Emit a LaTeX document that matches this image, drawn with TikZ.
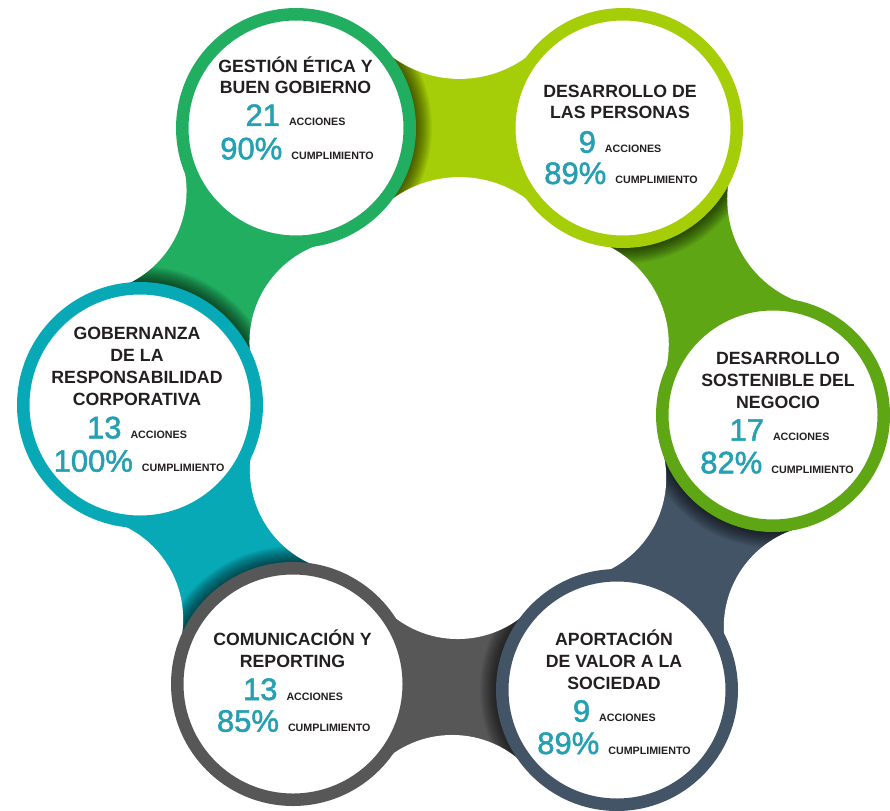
\documentclass[tikz,border=0pt]{standalone}
\usepackage{fontspec}
\setmainfont{Liberation Sans}
\newfontfamily\numfont{Liberation Sans}[FakeBold=1.6]
\usepackage{tikz}
\usetikzlibrary{calc}

\definecolor{ringgreen}{RGB}{34,174,96}
\definecolor{ringlime}{RGB}{166,206,8}
\definecolor{ringleaf}{RGB}{95,166,20}
\definecolor{ringslate}{RGB}{67,84,102}
\definecolor{ringgrey}{RGB}{87,87,87}
\definecolor{ringteal}{RGB}{8,169,183}
\definecolor{numblue}{RGB}{37,160,178}
\definecolor{ink}{RGB}{35,31,32}

\newcommand{\scoreline}[2]{{\color{numblue}\numfont\fontsize{31}{31}\selectfont #1}\hspace{9pt}{\color{ink}\bfseries\fontsize{10.7}{11}\selectfont #2}}

\newcommand{\bridge}[6]{%
	\coordinate (mid) at ($(#1)!0.5!(#2)$);
	\coordinate (cin) at ($(mid)!#4pt!90:(#2)$);
	\coordinate (cout) at ($(mid)!#4pt!-90:(#2)$);
	\fill[#3] (#1) -- (cout) -- (#2) -- (cin) -- cycle;
	\begin{scope}
		\clip (#1) -- (cout) -- (#2) -- (cin) -- cycle;
		\foreach \s in {1,...,16}
			\fill[black, opacity=0.045] (#2) circle [radius=#5pt+\s pt];
	\end{scope}
	\fill[white] (cin) circle [radius=#6pt];
	\fill[white] (cout) circle [radius=#6pt];
}

\tikzset{
	ring/.style={circle, draw=#1, line width=12.5pt, fill=white, inner sep=0pt},
	title/.style={align=center, anchor=base, inner sep=0pt, text=ink, font=\bfseries\fontsize{17.7}{21.8}\selectfont},
	score/.style={anchor=base, inner sep=0pt},
}

\begin{document}
\begin{tikzpicture}[x=1pt, y=-1pt]
	\useasboundingbox (0,0) rectangle (890,810);
	\coordinate (eth) at (296,128);
	\coordinate (peo) at (623,128);
	\coordinate (bus) at (773,415);
	\coordinate (soc) at (617,690);
	\coordinate (com) at (293,684);
	\coordinate (gov) at (140,405);
		\bridge{eth}{gov}{ringgreen}{154.3}{123}{103}
		\bridge{gov}{com}{ringteal}{155.5}{122}{103}
		\bridge{com}{soc}{ringgrey}{151}{121}{103}
		\bridge{soc}{bus}{ringslate}{151.5}{117}{103}
		\bridge{bus}{peo}{ringleaf}{157.1}{120}{110}
		\bridge{peo}{eth}{ringlime}{162.6}{120}{113.5}
	\node (ethics) at (eth) [ring=ringgreen, minimum size=227.5pt] {};
	\node (people) at (peo) [ring=ringlime, minimum size=227.5pt] {};
	\node (business) at (bus) [ring=ringleaf, minimum size=221.5pt] {};
	\node (society) at (soc) [ring=ringslate, minimum size=229.5pt] {};
	\node (communication) at (com) [ring=ringgrey, minimum size=231.5pt] {};
	\node (governance) at (gov) [ring=ringteal, minimum size=233.5pt] {};
		\node (ethicsT) at (295.5,94) [title] {GESTIÓN ÉTICA Y\\BUEN GOBIERNO};
		\node (ethicsN) at (295.5,126) [score] {\scoreline{21}{ACCIONES}};
		\node (ethicsP) at (297,159.3) [score] {\scoreline{90\%}{CUMPLIMIENTO}};
		\node (peopleT) at (620,119) [title] {DESARROLLO DE\\LAS PERSONAS};
		\node (peopleN) at (620,152.7) [score] {\scoreline{9}{ACCIONES}};
		\node (peopleP) at (621,184) [score] {\scoreline{89\%}{CUMPLIMIENTO}};
		\node (businessT) at (778,408.3) [title] {DESARROLLO\\SOSTENIBLE DEL\\NEGOCIO};
		\node (businessN) at (779.5,440.7) [score] {\scoreline{17}{ACCIONES}};
		\node (businessP) at (777,473.3) [score] {\scoreline{82\%}{CUMPLIMIENTO}};
		\node (societyT) at (614,689) [title] {APORTACIÓN\\DE VALOR A LA\\SOCIEDAD};
		\node (societyN) at (614.3,721.7) [score] {\scoreline{9}{ACCIONES}};
		\node (societyP) at (614,754) [score] {\scoreline{89\%}{CUMPLIMIENTO}};
		\node (communicationT) at (292.5,667.3) [title] {COMUNICACIÓN Y\\REPORTING};
		\node (communicationN) at (293,700) [score] {\scoreline{13}{ACCIONES}};
		\node (communicationP) at (293.7,731.7) [score] {\scoreline{85\%}{CUMPLIMIENTO}};
		\node (governanceT) at (137,405) [title] {GOBERNANZA\\DE LA\\RESPONSABILIDAD\\CORPORATIVA};
		\node (governanceN) at (137,438.3) [score] {\scoreline{13}{ACCIONES}};
		\node (governanceP) at (139,471.7) [score] {\scoreline{100\%}{CUMPLIMIENTO}};
\end{tikzpicture}
\end{document}
